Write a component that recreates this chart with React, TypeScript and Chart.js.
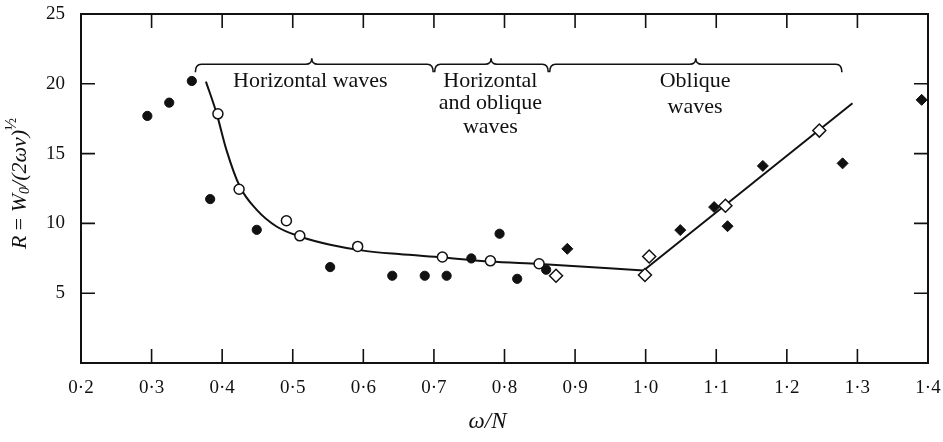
import React, { useEffect, useRef } from 'react';
import { Chart, registerables } from 'chart.js';

Chart.register(...registerables);

// ---- Data ----
const filledCircleX = [0.294, 0.325, 0.357, 0.383, 0.449, 0.553, 0.641, 0.687, 0.718, 0.753, 0.793, 0.818, 0.859];
const filledCircleY = [17.7, 18.65, 20.2, 11.74, 9.54, 6.87, 6.25, 6.25, 6.25, 7.49, 9.26, 6.03, 6.68];

const openCircleX = [0.394, 0.424, 0.491, 0.51, 0.592, 0.712, 0.78, 0.849];
const openCircleY = [17.85, 12.45, 10.19, 9.11, 8.35, 7.59, 7.32, 7.11];

const filledDiamondX = [0.889, 1.049, 1.097, 1.116, 1.166, 1.279, 1.391];
const filledDiamondY = [8.18, 9.52, 11.17, 9.8, 14.12, 14.3, 18.85];

const openDiamondX = [0.873, 0.999, 1.005, 1.113, 1.246];
const openDiamondY = [6.25, 6.3, 7.63, 11.26, 16.65];

// fitted curve (horizontal-wave branch) and straight oblique branch
const curveX = [0.377, 0.392, 0.406, 0.425, 0.449, 0.477, 0.51, 0.553, 0.6, 0.65, 0.713, 0.779, 0.85, 0.997];
const curveY = [20.16, 17.9, 15.27, 12.64, 10.97, 9.78, 9.06, 8.47, 8.05, 7.8, 7.56, 7.27, 7.09, 6.63];
const obliqueLineX = [0.997, 1.293];
const obliqueLineY = [6.63, 18.6];

// axes
const xTickValues = [0.2, 0.3, 0.4, 0.5, 0.6, 0.7, 0.8, 0.9, 1.0, 1.1, 1.2, 1.3, 1.4];
const xTickLabels = ['0·2', '0·3', '0·4', '0·5', '0·6', '0·7', '0·8', '0·9', '1·0', '1·1', '1·2', '1·3', '1·4'];
const yTickValues = [5, 10, 15, 20, 25];
const yTickLabels = ['5', '10', '15', '20', '25'];
const xMin = 0.2, xMax = 1.4, yMin = 0, yMax = 25;

// regime braces and labels
const braceStarts = [0.362, 0.701, 0.864];
const braceEnds = [0.699, 0.862, 1.278];
const braceTips = [0.527, 0.781, 1.071];
const braceLevel = 21.4;
const labelX = [0.525, 0.78, 1.07];
const labelLines = [['Horizontal waves'], ['Horizontal', 'and oblique', 'waves'], ['Oblique', 'waves']];
const labelLineY = [[20.2], [20.2, 18.6, 16.9], [20.2, 18.3]];

const xTitle = 'ω/N';

const SERIF = '"Liberation Serif", "DejaVu Serif", serif';
const INK = '#111';

const toPts = (xs: number[], ys: number[]) => xs.map((x, i) => ({ x, y: ys[i] }));

const zeroPad = (s: any) => {
  s.paddingTop = 0;
  s.paddingBottom = 0;
  s.paddingLeft = 0;
  s.paddingRight = 0;
};

const decorPlugin = {
  id: 'decor',
  afterDatasetsDraw(chart: any) {
    const { ctx, scales } = chart;
    const xs = scales.x, ys = scales.y;
    ctx.save();
    // braces
    ctx.strokeStyle = INK;
    ctx.lineWidth = 1.6;
    const yb = ys.getPixelForValue(braceLevel);
    const c = 6;
    for (let i = 0; i < braceStarts.length; i++) {
      const x0 = xs.getPixelForValue(braceStarts[i]);
      const x1 = xs.getPixelForValue(braceEnds[i]);
      const xt = xs.getPixelForValue(braceTips[i]);
      ctx.beginPath();
      ctx.moveTo(x0, yb + 8);
      ctx.quadraticCurveTo(x0, yb, x0 + c, yb);
      ctx.lineTo(xt - c, yb);
      ctx.quadraticCurveTo(xt, yb, xt, yb - 6);
      ctx.quadraticCurveTo(xt, yb, xt + c, yb);
      ctx.lineTo(x1 - c, yb);
      ctx.quadraticCurveTo(x1, yb, x1, yb + 8);
      ctx.stroke();
    }
    // labels
    ctx.fillStyle = INK;
    ctx.font = `22px ${SERIF}`;
    ctx.textAlign = 'center';
    ctx.textBaseline = 'middle';
    for (let i = 0; i < labelLines.length; i++) {
      const px = xs.getPixelForValue(labelX[i]);
      labelLines[i].forEach((t, j) => {
        ctx.fillText(t, px, ys.getPixelForValue(labelLineY[i][j]));
      });
    }
    ctx.restore();
  },
  afterDraw(chart: any) {
    const { ctx, chartArea: a, scales } = chart;
    const xs = scales.x, ys = scales.y;
    ctx.save();
    ctx.strokeStyle = INK;
    // frame
    ctx.lineWidth = 2;
    ctx.strokeRect(a.left, a.top, a.right - a.left, a.bottom - a.top);
    // inward ticks
    ctx.lineWidth = 1.6;
    const L = 14;
    ctx.beginPath();
    xTickValues.forEach((v) => {
      if (v <= xMin || v >= xMax) return;
      const p = xs.getPixelForValue(v);
      ctx.moveTo(p, a.bottom); ctx.lineTo(p, a.bottom - L);
      ctx.moveTo(p, a.top); ctx.lineTo(p, a.top + L);
    });
    yTickValues.forEach((v) => {
      if (v <= yMin || v >= yMax) return;
      const p = ys.getPixelForValue(v);
      ctx.moveTo(a.left, p); ctx.lineTo(a.left + L, p);
      ctx.moveTo(a.right, p); ctx.lineTo(a.right - L, p);
    });
    ctx.stroke();

    // x title
    ctx.fillStyle = INK;
    ctx.font = `italic 23px ${SERIF}`;
    ctx.textAlign = 'center';
    ctx.textBaseline = 'middle';
    ctx.fillText(xTitle, (a.left + a.right) / 2 - 17, a.bottom + 59);

    // y title: R = W0/(2ων)^½
    const parts = [
      { t: 'R', f: `italic 22px ${SERIF}`, dy: 0 },
      { t: ' = ', f: `22px ${SERIF}`, dy: 0 },
      { t: 'W', f: `italic 22px ${SERIF}`, dy: 0 },
      { t: '0', f: `italic 14px ${SERIF}`, dy: 5 },
      { t: '/(2ων)', f: `italic 22px ${SERIF}`, dy: 0 },
      { t: '½', f: `16px ${SERIF}`, dy: -8 },
    ];
    let total = 0;
    const widths = parts.map((p) => { ctx.font = p.f; const w = ctx.measureText(p.t).width; total += w; return w; });
    ctx.translate(a.left - 61, (a.top + a.bottom) / 2 - 5);
    ctx.rotate(-Math.PI / 2);
    ctx.textAlign = 'left';
    ctx.textBaseline = 'middle';
    let cx = -total / 2;
    parts.forEach((p, i) => {
      ctx.font = p.f;
      ctx.fillText(p.t, cx, p.dy);
      cx += widths[i];
    });
    ctx.restore();
  },
};

export default function App() {
  const ref = useRef<HTMLCanvasElement | null>(null);
  useEffect(() => {
    document.body.style.margin = '0';
    const canvas = ref.current;
    if (!canvas) return;
    const chart = new Chart(canvas, {
      type: 'scatter',
      data: {
        datasets: [
          {
            label: 'filled circles',
            data: toPts(filledCircleX, filledCircleY),
            pointStyle: 'circle',
            pointRadius: 4.6,
            backgroundColor: INK,
            borderColor: INK,
            borderWidth: 1,
            order: 1,
          },
          {
            label: 'open circles',
            data: toPts(openCircleX, openCircleY),
            pointStyle: 'circle',
            pointRadius: 5,
            backgroundColor: '#fff',
            borderColor: INK,
            borderWidth: 1.5,
            order: 0,
          },
          {
            label: 'filled diamonds',
            data: toPts(filledDiamondX, filledDiamondY),
            pointStyle: 'rectRot',
            pointRadius: 5.5,
            backgroundColor: INK,
            borderColor: INK,
            borderWidth: 1,
            order: 1,
          },
          {
            label: 'open diamonds',
            data: toPts(openDiamondX, openDiamondY),
            pointStyle: 'rectRot',
            pointRadius: 6.5,
            backgroundColor: '#fff',
            borderColor: INK,
            borderWidth: 1.5,
            order: 0,
          },
          {
            type: 'line',
            label: 'curve',
            data: toPts(curveX, curveY),
            showLine: true,
            pointRadius: 0,
            borderColor: INK,
            borderWidth: 2,
            cubicInterpolationMode: 'monotone',
            fill: false,
            order: 5,
          } as any,
          {
            type: 'line',
            label: 'oblique',
            data: toPts(obliqueLineX, obliqueLineY),
            showLine: true,
            pointRadius: 0,
            borderColor: INK,
            borderWidth: 2,
            tension: 0,
            fill: false,
            order: 5,
          } as any,
        ],
      },
      options: {
        animation: false,
        responsive: false,
        maintainAspectRatio: false,
        layout: { padding: { left: 0, right: 15, top: 14, bottom: 0 } },
        plugins: { legend: { display: false }, tooltip: { enabled: false } },
        scales: {
          x: {
            type: 'linear',
            min: xMin,
            max: xMax,
            afterBuildTicks: (s: any) => { s.ticks = xTickValues.map((v) => ({ value: v })); },
            afterFit: (s: any) => { s.height = 79; zeroPad(s); },
            grid: { display: false },
            border: { display: false },
            ticks: {
              autoSkip: false,
              maxRotation: 0,
              padding: 6,
              color: INK,
              font: { family: SERIF, size: 19 },
              callback: (_v: any, i: number) => xTickLabels[i],
            },
          },
          y: {
            type: 'linear',
            min: yMin,
            max: yMax,
            afterBuildTicks: (s: any) => { s.ticks = yTickValues.map((v) => ({ value: v })); },
            afterFit: (s: any) => { s.width = 81; zeroPad(s); },
            grid: { display: false },
            border: { display: false },
            ticks: {
              padding: 8,
              color: INK,
              font: { family: SERIF, size: 19 },
              callback: (_v: any, i: number) => yTickLabels[i],
            },
          },
        },
      } as any,
      plugins: [decorPlugin],
    });
    return () => chart.destroy();
  }, []);
  return (
    <div style={{ position: 'absolute', left: 0, top: 0, width: 943, height: 442, background: '#fff' }}>
      <canvas ref={ref} width={943} height={442} style={{ width: 943, height: 442, display: 'block' }} />
    </div>
  );
}
